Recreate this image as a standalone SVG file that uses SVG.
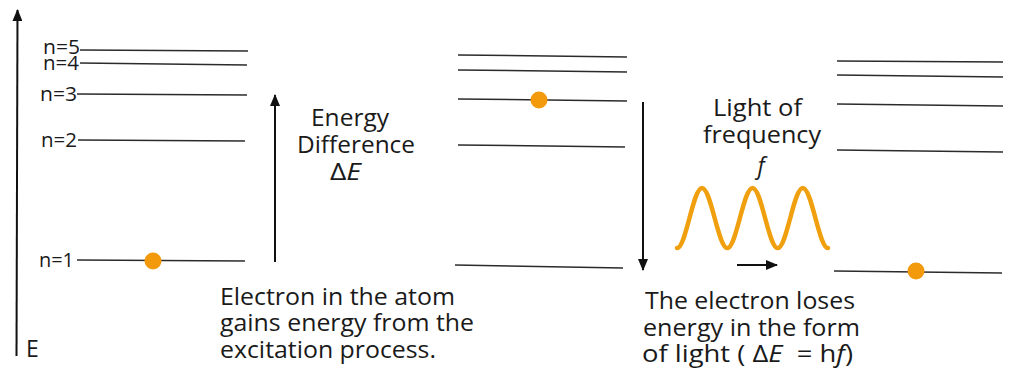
<svg xmlns="http://www.w3.org/2000/svg" width="1010" height="372" viewBox="0 0 1010 372">
<defs>
<style>
.lv{stroke:#2b2b2b;stroke-width:1.5;fill:none}
.ar{stroke:#111;stroke-width:2;fill:none}
.t{font-family:"Open Sans","Liberation Sans",sans-serif;fill:#1a1a1a}
.lb{font-size:20px}
.bd{font-size:23px}
.dot{fill:#F29A0C}
</style>
<marker id="ah" viewBox="0 0 12 10" refX="11" refY="5" markerWidth="12" markerHeight="10" markerUnits="userSpaceOnUse" orient="auto">
<path d="M0,0 L12,5 L0,10 Z" fill="#111"/>
</marker>
</defs>
<rect width="1010" height="372" fill="#fff"/>
<g id="axis">
<line class="ar" x1="16.5" y1="356" x2="17.5" y2="10" marker-end="url(#ah)"/>
<text class="t bd" x="26" y="357">E</text>
</g>
<g id="left-levels">
<line class="lv" x1="80" y1="50" x2="248" y2="51"/>
<line class="lv" x1="80" y1="63" x2="247" y2="65"/>
<line class="lv" x1="77" y1="94" x2="247" y2="95"/>
<line class="lv" x1="78" y1="140" x2="245" y2="141"/>
<line class="lv" x1="77" y1="260" x2="245" y2="261"/>
<text class="t lb" x="43" y="53.5" textLength="37" lengthAdjust="spacingAndGlyphs">n=5</text>
<text class="t lb" x="43" y="69.5" textLength="36" lengthAdjust="spacingAndGlyphs">n=4</text>
<text class="t lb" x="40" y="100.5" textLength="37" lengthAdjust="spacingAndGlyphs">n=3</text>
<text class="t lb" x="41" y="147" textLength="36" lengthAdjust="spacingAndGlyphs">n=2</text>
<text class="t lb" x="39" y="267" textLength="35" lengthAdjust="spacingAndGlyphs">n=1</text>
<circle class="dot" cx="153" cy="261" r="8.5"/>
</g>
<g id="middle-levels">
<line class="lv" x1="458" y1="55" x2="627" y2="57"/>
<line class="lv" x1="458" y1="70" x2="627" y2="72"/>
<line class="lv" x1="458" y1="99" x2="627" y2="101"/>
<line class="lv" x1="458" y1="145" x2="625" y2="147"/>
<line class="lv" x1="455" y1="265" x2="623" y2="268"/>
<circle class="dot" cx="539" cy="100" r="8.5"/>
</g>
<g id="right-levels">
<line class="lv" x1="837" y1="61" x2="1003" y2="62"/>
<line class="lv" x1="837" y1="75" x2="1003" y2="77"/>
<line class="lv" x1="837" y1="104" x2="1003" y2="106"/>
<line class="lv" x1="837" y1="150" x2="1003" y2="152"/>
<line class="lv" x1="834" y1="271" x2="1002" y2="273"/>
<circle class="dot" cx="916" cy="271" r="8.5"/>
</g>
<g id="connectors">
<line class="ar" x1="275" y1="262" x2="275" y2="95" marker-end="url(#ah)"/>
<line class="ar" x1="643" y1="102" x2="643" y2="270" marker-end="url(#ah)"/>
<line class="ar" x1="737" y1="265" x2="777" y2="265" stroke-width="2.5" marker-end="url(#ah)"/>
</g>
<g id="light">
<path d="M677,248 C686.1,248 692.9,188 702,188 C711.1,188 718.2,248 727.3,248 C736.4,248 743.4,188 752.5,188 C761.6,188 768.6,248 777.7,248 C786.8,248 793.7,188 802.8,188 C811.9,188 818.9,248 828,248" fill="none" stroke="#F0A00F" stroke-width="4.5" stroke-linecap="round"/>
<text class="t bd" x="713" y="116" textLength="89" lengthAdjust="spacingAndGlyphs">Light of</text>
<text class="t bd" x="703" y="143" textLength="118" lengthAdjust="spacingAndGlyphs">frequency</text>
<text class="t bd" x="761" y="174" text-anchor="middle" font-style="italic">f</text>
</g>
<g id="energy-label">
<text class="t bd" x="311" y="126" textLength="78" lengthAdjust="spacingAndGlyphs">Energy</text>
<text class="t bd" x="297" y="153" textLength="118" lengthAdjust="spacingAndGlyphs">Difference</text>
<text class="t bd" x="330" y="180" textLength="31" lengthAdjust="spacingAndGlyphs">Δ<tspan font-style="italic">E</tspan></text>
</g>
<g id="caption-left">
<text class="t bd" x="220" y="305" textLength="235" lengthAdjust="spacingAndGlyphs">Electron in the atom</text>
<text class="t bd" x="220" y="331" textLength="254" lengthAdjust="spacingAndGlyphs">gains energy from the</text>
<text class="t bd" x="220" y="357.5" textLength="216" lengthAdjust="spacingAndGlyphs">excitation process.</text>
</g>
<g id="caption-right">
<text class="t bd" x="645" y="309" textLength="210" lengthAdjust="spacingAndGlyphs">The electron loses</text>
<text class="t bd" x="643" y="336" textLength="217" lengthAdjust="spacingAndGlyphs">energy in the form</text>
<text class="t bd" x="642" y="362" textLength="211" lengthAdjust="spacingAndGlyphs">of light ( Δ<tspan font-style="italic">E</tspan>&#160; = h<tspan font-style="italic">f</tspan>)</text>
</g>
</svg>
